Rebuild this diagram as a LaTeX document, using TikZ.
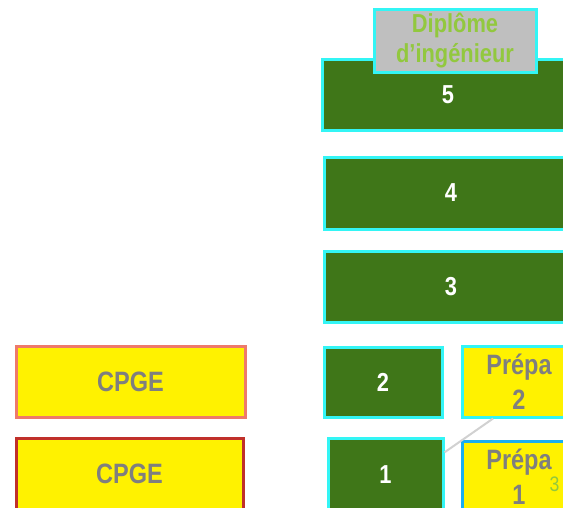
\documentclass[tikz,border=0pt]{standalone}
\usepackage{fontspec}
\setmainfont[FakeStretch=0.84]{Liberation Sans}
\definecolor{boxgreen}{HTML}{3F7618}
\definecolor{cyanb}{HTML}{33F5F5}
\definecolor{txtgray}{HTML}{7F7F7F}
\definecolor{ltgreen}{HTML}{92C83E}
\definecolor{prepablue}{HTML}{1AAEF0}
\definecolor{salmon}{HTML}{EE7A6A}
\definecolor{darkred}{HTML}{C0302A}
\definecolor{dgray}{HTML}{BFBFBF}
\begin{document}
\begin{tikzpicture}[x=1pt,y=-1pt,
  year/.style={draw=cyanb,line width=3pt,fill=boxgreen,text=white,inner sep=0pt,
    font=\fontsize{26}{30}\selectfont\bfseries},
  yellowbox/.style={line width=3pt,fill=yellow,text=txtgray,inner sep=0pt,align=center,
    font=\fontsize{28}{35}\selectfont\bfseries}]
\useasboundingbox (0,0) rectangle (563,507);
\clip (0,0) rectangle (563,507);
\node[year,minimum width=252pt,minimum height=71pt] (y5) at (448,94.5) {5};
\node[draw=cyanb,line width=3pt,fill=dgray,text=ltgreen,inner sep=0pt,align=center,
  minimum width=162pt,minimum height=63pt,font=\fontsize{26}{30}\selectfont\bfseries]
  (dip) at (455,40.5) {Diplôme\\d’ingénieur};
\node[year,minimum width=254pt,minimum height=72pt] (y4) at (451,193) {4};
\node[year,minimum width=254pt,minimum height=71pt] (y3) at (451,286.5) {3};
\node[year,minimum width=118pt,minimum height=70pt] (y2) at (383,382) {2};
\node[year,minimum width=115pt,minimum height=74pt] (y1) at (385.5,475) {1};
\node[yellowbox,draw=cyanb,minimum width=114pt,minimum height=71pt] (p2) at (519,381.5) {Prépa\\2};
\node[yellowbox,draw=prepablue,minimum width=114pt,minimum height=71pt] (p1) at (519,476.5) {Prépa\\1};
\node[text=ltgreen,inner sep=0pt,font=\fontsize{21}{24}\selectfont] (n3) at (554.5,484.5) {3};
\node[yellowbox,draw=salmon,minimum width=229pt,minimum height=71pt] (c1) at (130.5,381.5) {CPGE};
\node[yellowbox,draw=darkred,minimum width=227pt,minimum height=72pt] (c2) at (129.5,474) {CPGE};
\draw[line width=2pt,draw=black!18] (y1.21.8) -- (p2.235.9);
\end{tikzpicture}
\end{document}
